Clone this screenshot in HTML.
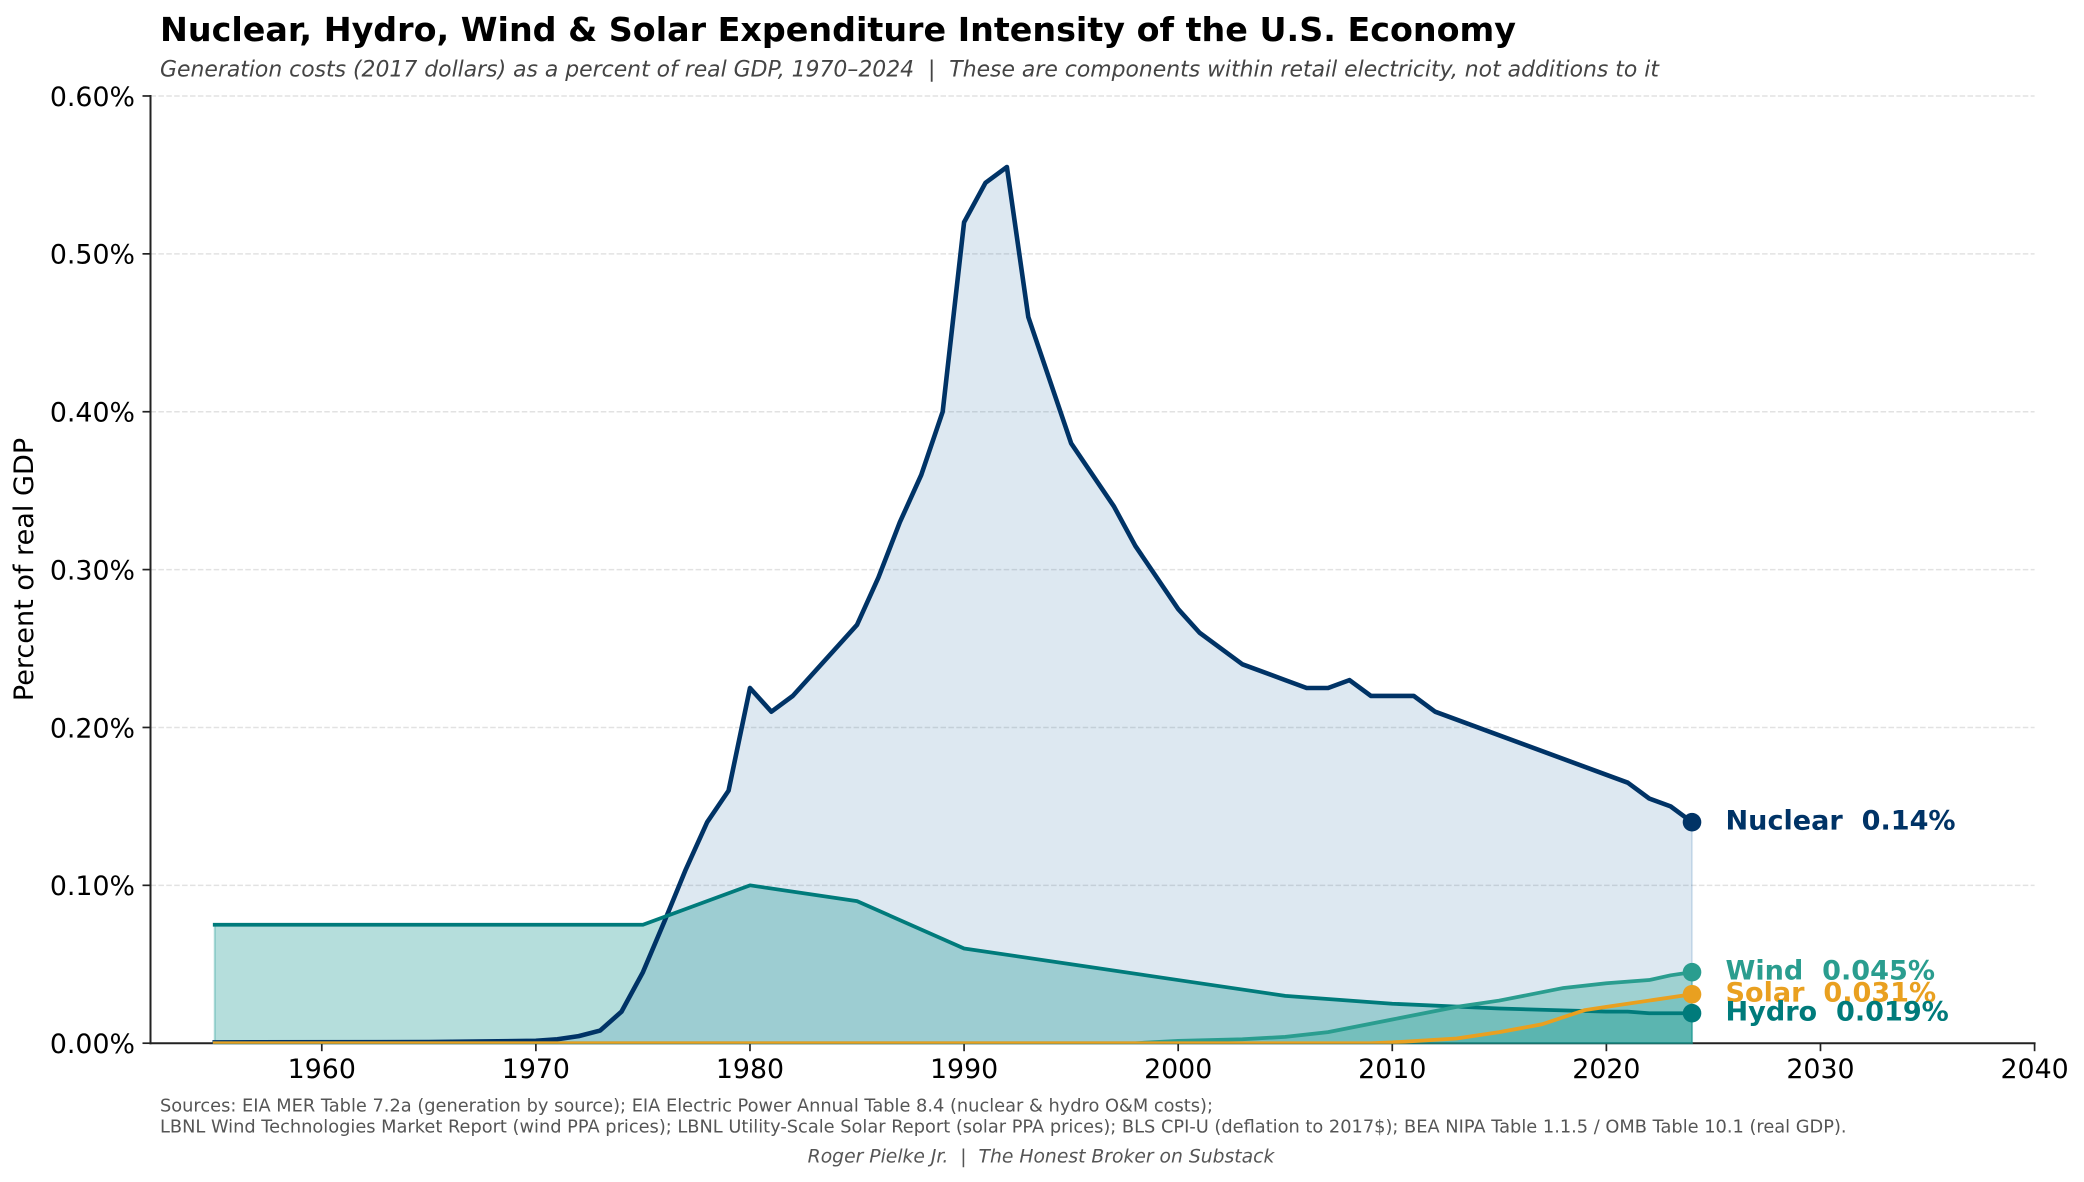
<!DOCTYPE html>
<html lang="en">
<head>
<meta charset="utf-8">
<title>Nuclear, Hydro, Wind &amp; Solar Expenditure Intensity</title>
<style>
html,body{margin:0;padding:0;background:#fff;}
svg{display:block;}
text{font-family:"DejaVu Sans","Liberation Sans",sans-serif;white-space:pre;}
</style>
</head>
<body>
<svg id="chart" xmlns="http://www.w3.org/2000/svg" width="2084" height="1182" viewBox="0 0 2084 1182">
<defs><clipPath id="plot-clip"><rect x="150" y="90" width="1890" height="953.7"/></clipPath></defs>
<rect width="2084" height="1182" fill="#ffffff"/>
<text x="160" y="41" font-size="33.35" font-weight="700" fill="#000000">Nuclear, Hydro, Wind &amp; Solar Expenditure Intensity of the U.S. Economy</text>
<text x="160" y="76.5" font-size="21.91" font-style="italic" fill="#444444">Generation costs (2017 dollars) as a percent of real GDP, 1970–2024  |  These are components within retail electricity, not additions to it</text>
<text transform="translate(33,569.5) rotate(-90)" text-anchor="middle" font-size="27.08" fill="#000000">Percent of real GDP</text>
<g id="grid"></g>
<g id="axes"></g>
<g id="fills"></g>
<g id="lines" clip-path="url(#plot-clip)"></g>
<g id="labels"></g>
<text x="160" y="1111.5" font-size="17.8" fill="#555555">Sources: EIA MER Table 7.2a (generation by source); EIA Electric Power Annual Table 8.4 (nuclear &amp; hydro O&amp;M costs);</text>
<text x="160" y="1132.5" font-size="17.8" fill="#555555">LBNL Wind Technologies Market Report (wind PPA prices); LBNL Utility-Scale Solar Report (solar PPA prices); BLS CPI-U (deflation to 2017$); BEA NIPA Table 1.1.5 / OMB Table 10.1 (real GDP).</text>
<text x="1041" y="1162.5" text-anchor="middle" font-size="18.75" font-style="italic" fill="#555555">Roger Pielke Jr.  |  The Honest Broker on Substack</text>
</svg>
<script>
const xTicks = [1960, 1970, 1980, 1990, 2000, 2010, 2020, 2030, 2040];
const yTicks = [0, 0.1, 0.2, 0.3, 0.4, 0.5, 0.6];
const yTickLabels = ['0.00%', '0.10%', '0.20%', '0.30%', '0.40%', '0.50%', '0.60%'];

const nuclearYears = [1955, 1965, 1970, 1971, 1972, 1973, 1974, 1975, 1976, 1977, 1978, 1979, 1980, 1981, 1982, 1985, 1986, 1987, 1988, 1989, 1990, 1991, 1992, 1993, 1995, 1997, 1998, 2000, 2001, 2003, 2005, 2006, 2007, 2008, 2009, 2010, 2011, 2012, 2021, 2022, 2023, 2024];
const nuclearValues = [0.0005, 0.0007, 0.0015, 0.0025, 0.0045, 0.008, 0.02, 0.045, 0.077, 0.11, 0.14, 0.16, 0.225, 0.21, 0.22, 0.265, 0.295, 0.33, 0.36, 0.40, 0.52, 0.545, 0.555, 0.46, 0.38, 0.34, 0.315, 0.275, 0.26, 0.24, 0.23, 0.225, 0.225, 0.23, 0.22, 0.22, 0.22, 0.21, 0.165, 0.155, 0.15, 0.14];

const hydroYears = [1955, 1975, 1980, 1985, 1990, 1995, 2000, 2005, 2010, 2015, 2020, 2021, 2022, 2023, 2024];
const hydroValues = [0.075, 0.075, 0.10, 0.09, 0.06, 0.05, 0.04, 0.03, 0.025, 0.022, 0.02, 0.02, 0.019, 0.019, 0.019];

const windYears = [1955, 1998, 2000, 2003, 2005, 2007, 2010, 2013, 2015, 2018, 2020, 2022, 2023, 2024];
const windValues = [0, 0, 0.0015, 0.0025, 0.004, 0.007, 0.015, 0.023, 0.027, 0.035, 0.038, 0.04, 0.043, 0.045];

const solarYears = [1955, 2009, 2010, 2013, 2015, 2017, 2019, 2020, 2022, 2024];
const solarValues = [0, 0, 0.0005, 0.003, 0.007, 0.012, 0.021, 0.023, 0.027, 0.031];

const endLabelYear = 2024;
const endNames = ['Nuclear', 'Wind', 'Solar', 'Hydro'];
const endValues = [0.14, 0.045, 0.031, 0.019];
const endPrinted = ['0.14%', '0.045%', '0.031%', '0.019%'];

const X0 = 150.5, PXYR = 21.41, XMIN = 1952, XMAX = 2040;
const Y0 = 1043.2, PXUNIT = 1578.7, YMAX = 0.6;
const xScale = function (v) { return X0 + (v - XMIN) * PXYR; };
const yScale = function (v) { return Y0 - v * PXUNIT; };
const NS = 'http://www.w3.org/2000/svg';

function make(tag, parent, attrs, text) {
  const el = document.createElementNS(NS, tag);
  for (const k in attrs) { el.setAttribute(k, attrs[k]); }
  if (text !== undefined) { el.textContent = text; }
  parent.appendChild(el);
  return el;
}
function linePath(xs, ys) {
  return xs.map(function (x, i) { return (i ? 'L' : 'M') + xScale(x).toFixed(2) + ' ' + yScale(ys[i]).toFixed(2); }).join(' ');
}
function areaPath(xs, ys) {
  return linePath(xs, ys) + ' L' + xScale(xs[xs.length - 1]).toFixed(2) + ' ' + yScale(0).toFixed(2) + ' L' + xScale(xs[0]).toFixed(2) + ' ' + yScale(0).toFixed(2) + ' Z';
}

const gridG = document.getElementById('grid');
const fillG = document.getElementById('fills');
const axesG = document.getElementById('axes');
const lineG = document.getElementById('lines');
const labelG = document.getElementById('labels');

yTicks.forEach(function (t) {
  if (t === 0) { return; }
  const g = make('line', gridG, { x1: xScale(XMIN), x2: xScale(XMAX), y1: yScale(t), y2: yScale(t), stroke: '#e2e2e2', 'stroke-width': 1.5, 'stroke-dasharray': '5.5 2.4' });
  
  
});

const nuclearFill = make('path', fillG, { d: areaPath(nuclearYears, nuclearValues), fill: '#1c66a0', 'fill-opacity': 0.15, stroke: '#1c66a0', 'stroke-opacity': 0.15, 'stroke-width': 2 });


const hydroFill = make('path', fillG, { d: areaPath(hydroYears, hydroValues), fill: '#008f86', 'fill-opacity': 0.29, stroke: '#008f86', 'stroke-opacity': 0.29, 'stroke-width': 2 });


const windFill = make('path', fillG, { d: areaPath(windYears, windValues), fill: '#2aa595', 'fill-opacity': 0.35, stroke: '#2aa595', 'stroke-opacity': 0.35, 'stroke-width': 2 });


const solarFill = make('path', fillG, { d: areaPath(solarYears, solarValues), fill: '#009088', 'fill-opacity': 0.22, stroke: 'none' });



const ySpine = make('line', axesG, { x1: X0, x2: X0, y1: yScale(YMAX) - 1, y2: Y0 + 1, stroke: '#222222', 'stroke-width': 2 });


const xSpine = make('line', axesG, { x1: X0 - 1, x2: xScale(XMAX) + 1, y1: Y0, y2: Y0, stroke: '#222222', 'stroke-width': 2 });



xTicks.forEach(function (t) {
  const x = xScale(t);
  const tick = make('line', axesG, { x1: x, x2: x, y1: Y0, y2: Y0 + 8, stroke: '#222222', 'stroke-width': 1.7 });
  
  
  const label = make('text', axesG, { x: x, y: 1078, 'text-anchor': 'middle', 'font-size': 26.8, fill: '#000000' }, String(t));
  
  
});
yTicks.forEach(function (t, i) {
  const y = yScale(t);
  const tick = make('line', axesG, { x1: X0 - 8, x2: X0, y1: y, y2: y, stroke: '#222222', 'stroke-width': 1.7 });
  
  
  const label = make('text', axesG, { x: 135, y: y + 9.8, 'text-anchor': 'end', 'font-size': 26.8, fill: '#000000' }, yTickLabels[i]);
  
  
});

const nuclearLine = make('path', lineG, { d: linePath(nuclearYears, nuclearValues), fill: 'none', stroke: '#003366', 'stroke-width': 4.6, 'stroke-linejoin': 'round', 'stroke-linecap': 'square' });


const hydroLine = make('path', lineG, { d: linePath(hydroYears, hydroValues), fill: 'none', stroke: '#007b7b', 'stroke-width': 3.75, 'stroke-linejoin': 'round', 'stroke-linecap': 'square' });


const windLine = make('path', lineG, { d: linePath(windYears, windValues), fill: 'none', stroke: '#2a9d8f', 'stroke-width': 3.75, 'stroke-linejoin': 'round', 'stroke-linecap': 'square' });


const solarLine = make('path', lineG, { d: linePath(solarYears, solarValues), fill: 'none', stroke: '#e9a020', 'stroke-width': 3.75, 'stroke-linejoin': 'round', 'stroke-linecap': 'square' });



const endColors = ['#003366', '#2a9d8f', '#e9a020', '#007b7b'];
endNames.forEach(function (name, i) {
  const y = yScale(endValues[i]);
  const dot = make('circle', labelG, { cx: xScale(endLabelYear), cy: y, r: 9.3, fill: endColors[i] });
  
  
});
endNames.forEach(function (name, i) {
  const y = yScale(endValues[i]);
  const label = make('text', labelG, { x: 1725.5, y: y + 7.4, 'font-size': 27.08, 'font-weight': 700, fill: endColors[i] }, name + '  ' + endPrinted[i]);
  
  
});
</script>
</body>
</html>
